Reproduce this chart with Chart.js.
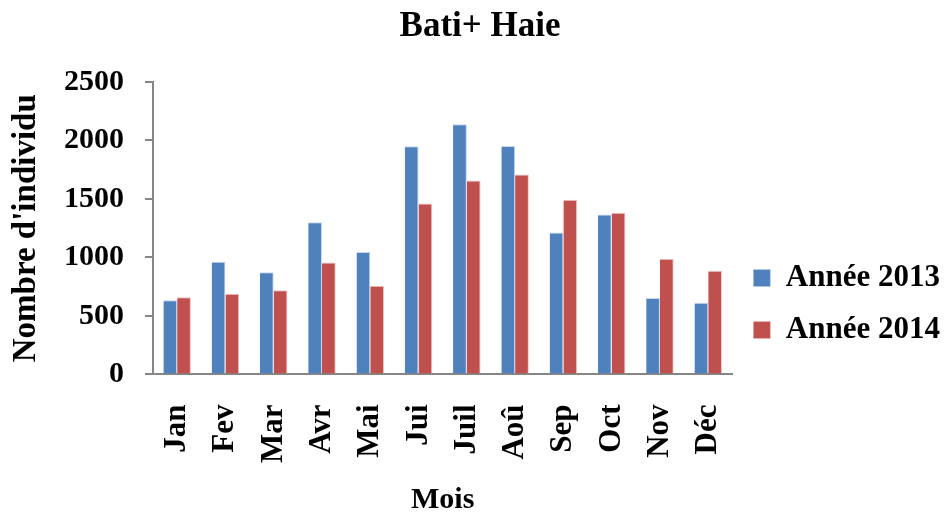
<!DOCTYPE html>
<html>
<head>
<meta charset="utf-8">
<script src="https://cdn.jsdelivr.net/npm/chart.js@4/dist/chart.umd.min.js"></script>
<style>
  html, body { margin: 0; padding: 0; background: #fff; }
  #wrap { width: 950px; height: 515px; }
</style>
</head>
<body>
<div id="wrap"><canvas id="batiChart" width="950" height="515"></canvas></div>
<script>
const mois = ['Jan', 'Fev', 'Mar', 'Avr', 'Mai', 'Jui', 'Juil', 'Aoû', 'Sep', 'Oct', 'Nov', 'Déc'];
const annee2013 = [634, 964, 873, 1302, 1046, 1951, 2138, 1954, 1214, 1368, 654, 614];
const annee2014 = [660, 691, 719, 958, 759, 1462, 1658, 1709, 1493, 1382, 990, 887];
const yTicks = [0, 500, 1000, 1500, 2000, 2500];

const serif = "'Liberation Serif', 'Times New Roman', serif";
const axisGrey = '#868686';

const ctx = document.getElementById('batiChart').getContext('2d');
const batiChart = new Chart(ctx, {
  type: 'bar',
  data: {
    labels: mois,
    datasets: [{
      label: 'Année 2013',
      data: annee2013,
      backgroundColor: '#4F81BD',
      borderColor: 'rgba(190, 208, 235, 0.9)',
      borderWidth: { top: 1, right: 1, left: 0, bottom: 0 },
      barPercentage: 1,
      categoryPercentage: 0.57
    }, {
      label: 'Année 2014',
      data: annee2014,
      backgroundColor: '#C0504D',
      borderColor: 'rgba(235, 190, 190, 0.9)',
      borderWidth: { top: 1, right: 1, left: 0, bottom: 0 },
      barPercentage: 1,
      categoryPercentage: 0.57
    }]
  },
  options: {
    responsive: false,
    animation: false,
    devicePixelRatio: 1,
    layout: { padding: { left: 10, right: 0, top: 0, bottom: 0 } },
    plugins: {
      title: {
        display: true,
        text: 'Bati+ Haie',
        color: '#000',
        font: { family: serif, size: 35, weight: 'bold' },
        padding: { top: 6, bottom: 34 }
      },
      legend: {
        position: 'right',
        title: {
          // blank title only pushes the entries down
          display: true,
          text: ' ',
          font: { size: 1 },
          padding: { top: 92, bottom: 0 }
        },
        labels: {
          color: '#000',
          font: { family: serif, size: 31, weight: 'bold' },
          boxWidth: 17,
          boxHeight: 17,
          padding: 21
        }
      },
      tooltip: { enabled: false }
    },
    scales: {
      x: {
        grid: { display: false },
        border: { display: true, color: axisGrey, width: 2 },
        ticks: {
          color: '#000',
          font: { family: serif, size: 31, weight: 'bold' },
          minRotation: 90,
          maxRotation: 90,
          padding: 22
        },
        title: {
          display: true,
          text: 'Mois',
          color: '#000',
          font: { family: serif, size: 30, weight: 'bold', lineHeight: 1 },
          padding: { top: 0, bottom: 0 }
        }
      },
      y: {
        min: 0,
        max: 2500,
        afterBuildTicks: axis => { axis.ticks = yTicks.map(v => ({ value: v })); },
        afterFit: axis => { axis.width = 143; },
        grid: {
          drawOnChartArea: false,
          drawTicks: true,
          tickLength: 8,
          color: axisGrey,
          lineWidth: 2
        },
        border: { display: true, color: axisGrey, width: 2 },
        ticks: {
          color: '#000',
          font: { family: serif, size: 30, weight: 'bold' },
          padding: 21,
          callback: v => String(v)
        },
        title: {
          display: true,
          text: "Nombre d'individu",
          color: '#000',
          font: { family: serif, size: 33, weight: 'bold', lineHeight: 1 },
          padding: { top: 0, bottom: 2 }
        }
      }
    }
  }
});
</script>
</body>
</html>
